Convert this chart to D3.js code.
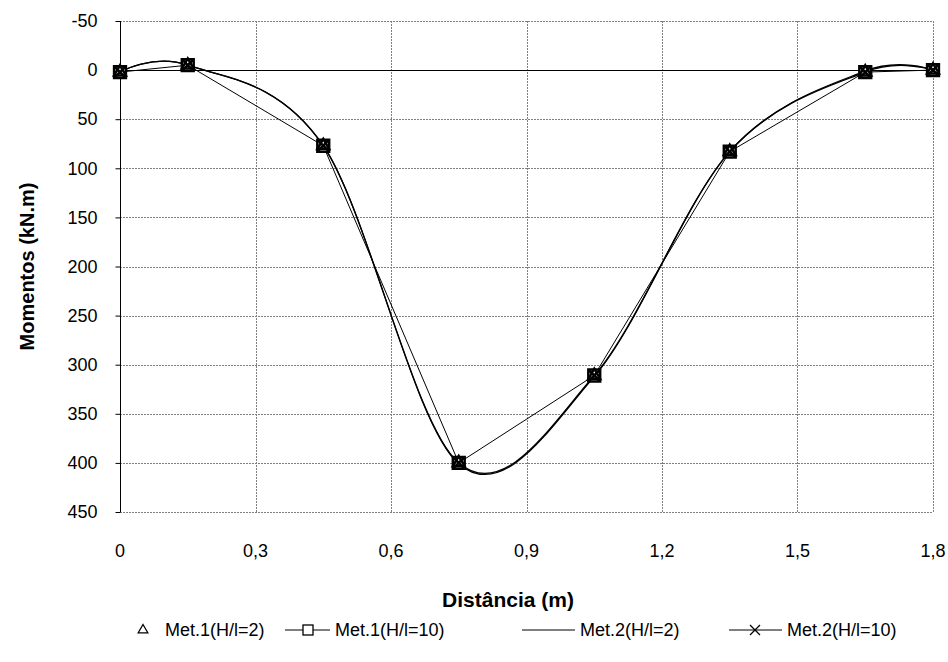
<!DOCTYPE html>
<html>
<head lang="pt">
    <meta charset="UTF-8">
    <title> Momentos </title>
    <script type="text/javascript" src="https://cdn.jsdelivr.net/npm/d3@7"></script>
    <style>
        body { margin: 0; background: #fff; }
        text { font-family: Arial, "Liberation Sans", sans-serif; fill: #000; }
    </style>
</head>
<body>
<div id="chart"></div>
<script>

    // data
    var distancia  = [0, 0.15, 0.45, 0.75, 1.05, 1.35, 1.65, 1.8];
    var met1_h2    = [2, -5, 77, 400, 311, 83, 2, 0];
    var met1_h10   = [2, -5, 77, 400, 311, 83, 2, 0];
    var met2_h2    = [2, -5, 77, 401, 312, 83, 1, 0];
    var met2_h10   = [2, -5, 77, 400, 311, 83, 2, 0];
    var xTicks     = [0, 0.3, 0.6, 0.9, 1.2, 1.5, 1.8];
    var yTicks     = [-50, 0, 50, 100, 150, 200, 250, 300, 350, 400, 450];
    var legendNames = ["Met.1(H/l=2)", "Met.1(H/l=10)", "Met.2(H/l=2)", "Met.2(H/l=10)"];

    var W = 948, H = 662;
    // plot box (note: "top" is reserved on window, so prefixed names)
    var pLeft = 120, pRight = 933, pTop = 21, pBottom = 512;

    var svg = d3.select("#chart").append("svg")
            .attr("width", W)
            .attr("height", H);

    var x = d3.scaleLinear().domain([0, 1.8]).range([pLeft, pRight]);
    var y = d3.scaleLinear().domain([-50, 450]).range([pTop, pBottom]);

    var fmt = function (d) { return String(d).replace(".", ","); };

    // grid
    svg.append("g").selectAll("line")
            .data(yTicks).enter().append("line")
            .attr("x1", pLeft).attr("x2", pRight)
            .attr("y1", function (d) { return Math.round(y(d)) + 0.5; })
            .attr("y2", function (d) { return Math.round(y(d)) + 0.5; })
            .style("stroke", "#808080")
            .style("stroke-dasharray", "2,1");

    svg.append("g").selectAll("line")
            .data(xTicks.slice(1)).enter().append("line")
            .attr("x1", function (d) { return Math.round(x(d)) + 0.5; })
            .attr("x2", function (d) { return Math.round(x(d)) + 0.5; })
            .attr("y1", pTop).attr("y2", pBottom)
            .style("stroke", "#808080")
            .style("stroke-dasharray", "2,1");

    // y axis (left) with outside ticks
    var yAxis = svg.append("g")
            .attr("transform", "translate(" + (pLeft + 0.5) + ",0)")
            .call(d3.axisLeft(y).tickValues(yTicks).tickSize(5).tickPadding(18).tickFormat(fmt));
    yAxis.select(".domain").attr("d", "M0," + pTop + "V" + pBottom).style("stroke", "#000");
    yAxis.selectAll(".tick line").style("stroke", "#000");
    yAxis.selectAll("text").style("font-size", "18px").style("font-family", "Arial, 'Liberation Sans', sans-serif");

    // zero line
    svg.append("line")
            .attr("x1", pLeft).attr("x2", pRight)
            .attr("y1", Math.round(y(0)) + 0.5).attr("y2", Math.round(y(0)) + 0.5)
            .style("stroke", "#000");

    // x tick labels (low)
    svg.append("g").selectAll("text")
            .data(xTicks).enter().append("text")
            .attr("x", function (d) { return x(d); })
            .attr("y", 557)
            .attr("text-anchor", "middle")
            .style("font-size", "18px")
            .text(fmt);

    // axis titles
    svg.append("text")
            .attr("x", 508)
            .attr("y", 607)
            .attr("text-anchor", "middle")
            .style("font-size", "21px")
            .style("font-weight", "bold")
            .text("Distância (m)");

    svg.append("text")
            .attr("transform", "translate(34," + ((pTop + pBottom) / 2) + ") rotate(-90)")
            .attr("text-anchor", "middle")
            .style("font-size", "20px")
            .style("font-weight", "bold")
            .text("Momentos (kN.m)");

    // series
    function pts(vals) {
        return distancia.map(function (d, i) { return [d, vals[i]]; });
    }
    var straight = d3.line().x(function (d) { return x(d[0]); }).y(function (d) { return y(d[1]); });
    var smooth = d3.line().x(function (d) { return x(d[0]); }).y(function (d) { return y(d[1]); })
            .curve(d3.curveCardinal.tension(0));

    var plot = svg.append("g");

    plot.append("path").attr("d", smooth(pts(met2_h2)))
            .style("fill", "none").style("stroke", "#000").style("stroke-width", 1.3);
    plot.append("path").attr("d", smooth(pts(met2_h10)))
            .style("fill", "none").style("stroke", "#000").style("stroke-width", 1.3);
    plot.append("path").attr("d", straight(pts(met1_h10)))
            .style("fill", "none").style("stroke", "#000").style("stroke-width", 1);

    var tri = d3.symbol().type(d3.symbolTriangle).size(60);
    var sq = d3.symbol().type(d3.symbolSquare).size(140);
    var cross = "M-5,-5L5,5M-5,5L5,-5";

    function markers(vals, pathD, fill) {
        plot.append("g").selectAll("path")
                .data(pts(vals)).enter().append("path")
                .attr("transform", function (d) { return "translate(" + x(d[0]) + "," + y(d[1]) + ")"; })
                .attr("d", pathD)
                .style("fill", fill)
                .style("stroke", "#000")
                .style("stroke-width", 2.5);
    }
    markers(met1_h10, sq(), "#fff");
    markers(met2_h10, cross, "none");
    markers(met1_h2, tri(), "none");

    // legend
    var lg = svg.append("g");
    var ly = 630;
    lg.append("path").attr("transform", "translate(143," + ly + ")").attr("d", d3.symbol().type(d3.symbolTriangle).size(40)())
            .style("fill", "none").style("stroke", "#000").style("stroke-width", 1.3);
    lg.append("line").attr("x1", 285).attr("x2", 330).attr("y1", ly).attr("y2", ly).style("stroke", "#000");
    lg.append("rect").attr("x", 303).attr("y", ly - 5).attr("width", 10).attr("height", 10)
            .style("fill", "#fff").style("stroke", "#000").style("stroke-width", 1.3);
    lg.append("line").attr("x1", 522).attr("x2", 575).attr("y1", ly).attr("y2", ly).style("stroke", "#000");
    lg.append("line").attr("x1", 729).attr("x2", 782).attr("y1", ly).attr("y2", ly).style("stroke", "#000");
    lg.append("path").attr("transform", "translate(755," + ly + ")").attr("d", "M-5,-5L5,5M-5,5L5,-5")
            .style("stroke", "#000").style("stroke-width", 1.3);

    var lx = [165, 335, 580, 787];
    lg.selectAll("text.leg").data(legendNames).enter().append("text")
            .attr("class", "leg")
            .attr("x", function (d, i) { return lx[i]; })
            .attr("y", ly + 6)
            .style("font-size", "18px")
            .text(function (d) { return d; });

</script>
</body>
</html>
